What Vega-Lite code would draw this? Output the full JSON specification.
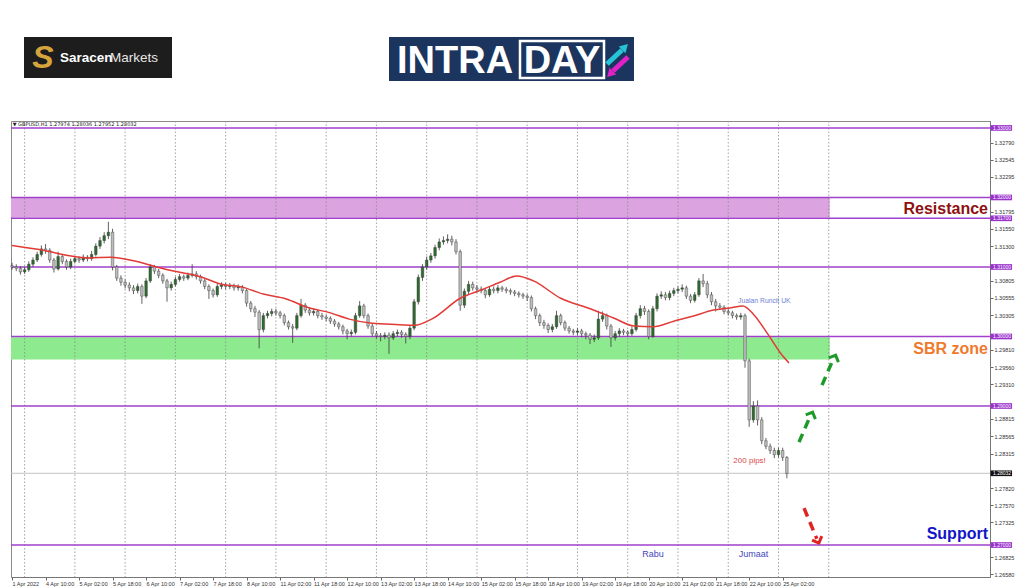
{
"$schema": "https://vega.github.io/schema/vega-lite/v6.json",
"padding": {"left": 8, "top": 0, "right": 0, "bottom": 0},
"spacing": 0,
"background": "white",
"config": {"view": {"stroke": null}, "font": "Liberation Sans", "axis": {"labelOverlap": false, "labelBound": false, "labelFlush": false, "title": null, "grid": false}},
"datasets": {
"candles": [
{"i":0,"o":1.3102,"h":1.3106,"l":1.3096,"c":1.3100},{"i":2,"o":1.3100,"h":1.3104,"l":1.3094,"c":1.3098},{"i":4,"o":1.3098,"h":1.3101,"l":1.3089,"c":1.3093},{"i":6,"o":1.3093,"h":1.3100,"l":1.3090,"c":1.3096},{"i":8,"o":1.3096,"h":1.3108,"l":1.3093,"c":1.3104},{"i":10,"o":1.3104,"h":1.3114,"l":1.3100,"c":1.3110},{"i":12,"o":1.3110,"h":1.3122,"l":1.3107,"c":1.3118},{"i":14,"o":1.3118,"h":1.3131,"l":1.3115,"c":1.3126},{"i":16,"o":1.3126,"h":1.3133,"l":1.3119,"c":1.3124},{"i":18,"o":1.3124,"h":1.3127,"l":1.3106,"c":1.3110},
{"i":20,"o":1.3110,"h":1.3113,"l":1.3092,"c":1.3097},{"i":22,"o":1.3097,"h":1.3122,"l":1.3095,"c":1.3115},{"i":24,"o":1.3115,"h":1.3118,"l":1.3104,"c":1.3108},{"i":26,"o":1.3108,"h":1.3111,"l":1.3096,"c":1.3100},{"i":28,"o":1.3100,"h":1.3112,"l":1.3097,"c":1.3108},{"i":30,"o":1.3108,"h":1.3116,"l":1.3105,"c":1.3112},{"i":32,"o":1.3112,"h":1.3115,"l":1.3106,"c":1.3110},{"i":34,"o":1.3110,"h":1.3118,"l":1.3107,"c":1.3114},{"i":36,"o":1.3114,"h":1.3117,"l":1.3108,"c":1.3112},{"i":38,"o":1.3112,"h":1.3123,"l":1.3109,"c":1.3118},
{"i":40,"o":1.3118,"h":1.3134,"l":1.3115,"c":1.3130},{"i":42,"o":1.3130,"h":1.3143,"l":1.3126,"c":1.3138},{"i":44,"o":1.3138,"h":1.3150,"l":1.3134,"c":1.3145},{"i":46,"o":1.3145,"h":1.3165,"l":1.3140,"c":1.3150},{"i":48,"o":1.3150,"h":1.3155,"l":1.3095,"c":1.3100},{"i":50,"o":1.3100,"h":1.3103,"l":1.3080,"c":1.3084},{"i":52,"o":1.3084,"h":1.3088,"l":1.3073,"c":1.3078},{"i":54,"o":1.3078,"h":1.3082,"l":1.3069,"c":1.3074},{"i":56,"o":1.3074,"h":1.3078,"l":1.3065,"c":1.3070},{"i":58,"o":1.3070,"h":1.3074,"l":1.3061,"c":1.3066},
{"i":60,"o":1.3066,"h":1.3076,"l":1.3062,"c":1.3072},{"i":62,"o":1.3072,"h":1.3075,"l":1.3047,"c":1.3058},{"i":64,"o":1.3058,"h":1.3084,"l":1.3055,"c":1.3080},{"i":66,"o":1.3080,"h":1.3104,"l":1.3077,"c":1.3100},{"i":68,"o":1.3100,"h":1.3103,"l":1.3090,"c":1.3094},{"i":70,"o":1.3094,"h":1.3097,"l":1.3084,"c":1.3088},{"i":72,"o":1.3088,"h":1.3091,"l":1.3076,"c":1.3080},{"i":74,"o":1.3080,"h":1.3083,"l":1.3050,"c":1.3070},{"i":76,"o":1.3070,"h":1.3079,"l":1.3066,"c":1.3075},{"i":78,"o":1.3075,"h":1.3086,"l":1.3072,"c":1.3082},
{"i":80,"o":1.3082,"h":1.3090,"l":1.3079,"c":1.3086},{"i":82,"o":1.3086,"h":1.3089,"l":1.3080,"c":1.3084},{"i":84,"o":1.3084,"h":1.3092,"l":1.3081,"c":1.3088},{"i":86,"o":1.3088,"h":1.3104,"l":1.3085,"c":1.3090},{"i":88,"o":1.3090,"h":1.3094,"l":1.3082,"c":1.3086},{"i":90,"o":1.3086,"h":1.3089,"l":1.3076,"c":1.3080},{"i":92,"o":1.3080,"h":1.3083,"l":1.3068,"c":1.3072},{"i":94,"o":1.3072,"h":1.3075,"l":1.3054,"c":1.3066},{"i":96,"o":1.3066,"h":1.3069,"l":1.3056,"c":1.3060},{"i":98,"o":1.3060,"h":1.3076,"l":1.3057,"c":1.3072},
{"i":100,"o":1.3072,"h":1.3078,"l":1.3068,"c":1.3074},{"i":102,"o":1.3074,"h":1.3077,"l":1.3068,"c":1.3072},{"i":104,"o":1.3072,"h":1.3077,"l":1.3068,"c":1.3073},{"i":106,"o":1.3073,"h":1.3076,"l":1.3066,"c":1.3070},{"i":108,"o":1.3070,"h":1.3075,"l":1.3066,"c":1.3071},{"i":110,"o":1.3071,"h":1.3074,"l":1.3062,"c":1.3066},{"i":112,"o":1.3066,"h":1.3069,"l":1.3043,"c":1.3048},{"i":114,"o":1.3048,"h":1.3051,"l":1.3035,"c":1.3040},{"i":116,"o":1.3040,"h":1.3044,"l":1.3028,"c":1.3035},{"i":118,"o":1.3035,"h":1.3038,"l":1.2983,"c":1.3010},
{"i":120,"o":1.3010,"h":1.3034,"l":1.3006,"c":1.3030},{"i":122,"o":1.3030,"h":1.3037,"l":1.3026,"c":1.3033},{"i":124,"o":1.3033,"h":1.3040,"l":1.3029,"c":1.3036},{"i":126,"o":1.3036,"h":1.3040,"l":1.3030,"c":1.3034},{"i":128,"o":1.3034,"h":1.3037,"l":1.3026,"c":1.3030},{"i":130,"o":1.3030,"h":1.3033,"l":1.3016,"c":1.3020},{"i":132,"o":1.3020,"h":1.3023,"l":1.3010,"c":1.3014},{"i":134,"o":1.3014,"h":1.3018,"l":1.2991,"c":1.3012},{"i":136,"o":1.3012,"h":1.3034,"l":1.3009,"c":1.3030},{"i":138,"o":1.3030,"h":1.3054,"l":1.3027,"c":1.3045},
{"i":140,"o":1.3045,"h":1.3048,"l":1.3034,"c":1.3038},{"i":142,"o":1.3038,"h":1.3042,"l":1.3030,"c":1.3034},{"i":144,"o":1.3034,"h":1.3040,"l":1.3030,"c":1.3036},{"i":146,"o":1.3036,"h":1.3039,"l":1.3026,"c":1.3030},{"i":148,"o":1.3030,"h":1.3034,"l":1.3024,"c":1.3028},{"i":150,"o":1.3028,"h":1.3031,"l":1.3022,"c":1.3026},{"i":152,"o":1.3026,"h":1.3029,"l":1.3018,"c":1.3022},{"i":154,"o":1.3022,"h":1.3025,"l":1.3014,"c":1.3018},{"i":156,"o":1.3018,"h":1.3021,"l":1.3010,"c":1.3014},{"i":158,"o":1.3014,"h":1.3017,"l":1.3003,"c":1.3008},
{"i":160,"o":1.3008,"h":1.3011,"l":1.2996,"c":1.3004},{"i":162,"o":1.3004,"h":1.3010,"l":1.3000,"c":1.3006},{"i":164,"o":1.3006,"h":1.3034,"l":1.3003,"c":1.3030},{"i":166,"o":1.3030,"h":1.3051,"l":1.3027,"c":1.3044},{"i":168,"o":1.3044,"h":1.3047,"l":1.3026,"c":1.3030},{"i":170,"o":1.3030,"h":1.3033,"l":1.3011,"c":1.3015},{"i":172,"o":1.3015,"h":1.3018,"l":1.3000,"c":1.3004},{"i":174,"o":1.3004,"h":1.3008,"l":1.2997,"c":1.3001},{"i":176,"o":1.3001,"h":1.3005,"l":1.2993,"c":1.3000},{"i":178,"o":1.3000,"h":1.3006,"l":1.2996,"c":1.3002},
{"i":180,"o":1.3002,"h":1.3006,"l":1.2975,"c":1.2998},{"i":182,"o":1.2998,"h":1.3008,"l":1.2995,"c":1.3004},{"i":184,"o":1.3004,"h":1.3010,"l":1.3000,"c":1.3006},{"i":186,"o":1.3006,"h":1.3009,"l":1.2998,"c":1.3003},{"i":188,"o":1.3003,"h":1.3006,"l":1.2990,"c":1.3000},{"i":190,"o":1.3000,"h":1.3016,"l":1.2996,"c":1.3012},{"i":192,"o":1.3012,"h":1.3054,"l":1.3009,"c":1.3050},{"i":194,"o":1.3050,"h":1.3089,"l":1.3046,"c":1.3085},{"i":196,"o":1.3085,"h":1.3104,"l":1.3080,"c":1.3100},{"i":198,"o":1.3100,"h":1.3115,"l":1.3096,"c":1.3110},
{"i":200,"o":1.3110,"h":1.3120,"l":1.3106,"c":1.3116},{"i":202,"o":1.3116,"h":1.3132,"l":1.3112,"c":1.3128},{"i":204,"o":1.3128,"h":1.3141,"l":1.3124,"c":1.3136},{"i":206,"o":1.3136,"h":1.3144,"l":1.3132,"c":1.3138},{"i":208,"o":1.3138,"h":1.3147,"l":1.3134,"c":1.3140},{"i":210,"o":1.3140,"h":1.3145,"l":1.3131,"c":1.3136},{"i":212,"o":1.3136,"h":1.3140,"l":1.3118,"c":1.3122},{"i":214,"o":1.3122,"h":1.3125,"l":1.3037,"c":1.3045},{"i":216,"o":1.3045,"h":1.3069,"l":1.3041,"c":1.3065},{"i":218,"o":1.3065,"h":1.3080,"l":1.3061,"c":1.3075},
{"i":220,"o":1.3075,"h":1.3079,"l":1.3066,"c":1.3070},{"i":222,"o":1.3070,"h":1.3074,"l":1.3063,"c":1.3068},{"i":224,"o":1.3068,"h":1.3072,"l":1.3062,"c":1.3066},{"i":226,"o":1.3066,"h":1.3069,"l":1.3055,"c":1.3060},{"i":228,"o":1.3060,"h":1.3072,"l":1.3057,"c":1.3068},{"i":230,"o":1.3068,"h":1.3072,"l":1.3062,"c":1.3066},{"i":232,"o":1.3066,"h":1.3074,"l":1.3062,"c":1.3070},{"i":234,"o":1.3070,"h":1.3073,"l":1.3064,"c":1.3068},{"i":236,"o":1.3068,"h":1.3071,"l":1.3062,"c":1.3066},{"i":238,"o":1.3066,"h":1.3069,"l":1.3060,"c":1.3064},
{"i":240,"o":1.3064,"h":1.3067,"l":1.3058,"c":1.3062},{"i":242,"o":1.3062,"h":1.3065,"l":1.3056,"c":1.3060},{"i":244,"o":1.3060,"h":1.3063,"l":1.3054,"c":1.3058},{"i":246,"o":1.3058,"h":1.3061,"l":1.3051,"c":1.3056},{"i":248,"o":1.3056,"h":1.3059,"l":1.3036,"c":1.3040},{"i":250,"o":1.3040,"h":1.3043,"l":1.3025,"c":1.3030},{"i":252,"o":1.3030,"h":1.3033,"l":1.3015,"c":1.3020},{"i":254,"o":1.3020,"h":1.3024,"l":1.3011,"c":1.3016},{"i":256,"o":1.3016,"h":1.3019,"l":1.3005,"c":1.3010},{"i":258,"o":1.3010,"h":1.3018,"l":1.3006,"c":1.3014},
{"i":260,"o":1.3014,"h":1.3037,"l":1.3011,"c":1.3030},{"i":262,"o":1.3030,"h":1.3033,"l":1.3016,"c":1.3020},{"i":264,"o":1.3020,"h":1.3023,"l":1.3008,"c":1.3012},{"i":266,"o":1.3012,"h":1.3015,"l":1.3004,"c":1.3008},{"i":268,"o":1.3008,"h":1.3011,"l":1.3002,"c":1.3006},{"i":270,"o":1.3006,"h":1.3012,"l":1.3002,"c":1.3008},{"i":272,"o":1.3008,"h":1.3011,"l":1.2999,"c":1.3004},{"i":274,"o":1.3004,"h":1.3007,"l":1.2996,"c":1.3002},{"i":276,"o":1.3002,"h":1.3005,"l":1.2989,"c":1.2996},{"i":278,"o":1.2996,"h":1.3003,"l":1.2992,"c":1.2998},
{"i":280,"o":1.2998,"h":1.3037,"l":1.2995,"c":1.3025},{"i":282,"o":1.3025,"h":1.3036,"l":1.3021,"c":1.3030},{"i":284,"o":1.3030,"h":1.3033,"l":1.3010,"c":1.3015},{"i":286,"o":1.3015,"h":1.3018,"l":1.2985,"c":1.2998},{"i":288,"o":1.2998,"h":1.3008,"l":1.2994,"c":1.3004},{"i":290,"o":1.3004,"h":1.3012,"l":1.3000,"c":1.3008},{"i":292,"o":1.3008,"h":1.3011,"l":1.3002,"c":1.3006},{"i":294,"o":1.3006,"h":1.3009,"l":1.3000,"c":1.3004},{"i":296,"o":1.3004,"h":1.3014,"l":1.3001,"c":1.3010},{"i":298,"o":1.3010,"h":1.3034,"l":1.3007,"c":1.3030},
{"i":300,"o":1.3030,"h":1.3045,"l":1.3026,"c":1.3040},{"i":302,"o":1.3040,"h":1.3044,"l":1.3031,"c":1.3036},{"i":304,"o":1.3036,"h":1.3039,"l":1.2996,"c":1.3000},{"i":306,"o":1.3000,"h":1.3044,"l":1.2998,"c":1.3040},{"i":308,"o":1.3040,"h":1.3062,"l":1.3036,"c":1.3058},{"i":310,"o":1.3058,"h":1.3065,"l":1.3054,"c":1.3060},{"i":312,"o":1.3060,"h":1.3064,"l":1.3052,"c":1.3056},{"i":314,"o":1.3056,"h":1.3066,"l":1.3052,"c":1.3062},{"i":316,"o":1.3062,"h":1.3070,"l":1.3058,"c":1.3066},{"i":318,"o":1.3066,"h":1.3072,"l":1.3062,"c":1.3068},
{"i":320,"o":1.3068,"h":1.3075,"l":1.3064,"c":1.3070},{"i":322,"o":1.3070,"h":1.3073,"l":1.3054,"c":1.3058},{"i":324,"o":1.3058,"h":1.3061,"l":1.3048,"c":1.3052},{"i":326,"o":1.3052,"h":1.3064,"l":1.3049,"c":1.3060},{"i":328,"o":1.3060,"h":1.3084,"l":1.3057,"c":1.3080},{"i":330,"o":1.3080,"h":1.3090,"l":1.3071,"c":1.3076},{"i":332,"o":1.3076,"h":1.3080,"l":1.3055,"c":1.3060},{"i":334,"o":1.3060,"h":1.3064,"l":1.3045,"c":1.3050},{"i":336,"o":1.3050,"h":1.3054,"l":1.3036,"c":1.3044},{"i":338,"o":1.3044,"h":1.3048,"l":1.3038,"c":1.3042},
{"i":340,"o":1.3042,"h":1.3045,"l":1.3032,"c":1.3036},{"i":342,"o":1.3036,"h":1.3040,"l":1.3030,"c":1.3034},{"i":344,"o":1.3034,"h":1.3037,"l":1.3026,"c":1.3030},{"i":346,"o":1.3030,"h":1.3033,"l":1.3024,"c":1.3028},{"i":348,"o":1.3028,"h":1.3034,"l":1.3024,"c":1.3030},{"i":350,"o":1.3030,"h":1.3033,"l":1.2955,"c":1.2965},{"i":352,"o":1.2965,"h":1.2968,"l":1.2870,"c":1.2880},{"i":354,"o":1.2880,"h":1.2907,"l":1.2876,"c":1.2900},{"i":356,"o":1.2900,"h":1.2908,"l":1.2872,"c":1.2880},{"i":358,"o":1.2880,"h":1.2884,"l":1.2845,"c":1.2850},
{"i":360,"o":1.2850,"h":1.2854,"l":1.2838,"c":1.2842},{"i":362,"o":1.2842,"h":1.2846,"l":1.2831,"c":1.2836},{"i":364,"o":1.2836,"h":1.2840,"l":1.2825,"c":1.2830},{"i":366,"o":1.2830,"h":1.2840,"l":1.2826,"c":1.2836},{"i":368,"o":1.2836,"h":1.2840,"l":1.2821,"c":1.2826},{"i":370,"o":1.2826,"h":1.2828,"l":1.2796,"c":1.2803}
],
"ma": [
{"i":0,"p":1.3131},{"i":15,"p":1.3124},{"i":26,"p":1.3117},{"i":37,"p":1.3113},{"i":47,"p":1.3114},{"i":58,"p":1.3109},{"i":69,"p":1.3100},{"i":79,"p":1.3093},{"i":90,"p":1.3086},{"i":99,"p":1.3076},{"i":110,"p":1.3071},{"i":120,"p":1.3061},{"i":131,"p":1.3054},{"i":141,"p":1.3042},{"i":152,"p":1.3034},{"i":161,"p":1.3025},{"i":172,"p":1.3019},{"i":185,"p":1.3017},{"i":192,"p":1.3016},{"i":201,"p":1.3026},{"i":214,"p":1.3055},{"i":225,"p":1.3068},{"i":233,"p":1.3078},{"i":241,"p":1.3087},{"i":249,"p":1.3080},{"i":262,"p":1.3055},{"i":275,"p":1.3041},{"i":287,"p":1.3027},{"i":297,"p":1.3015},{"i":306,"p":1.3014},{"i":316,"p":1.3022},{"i":325,"p":1.3029},{"i":335,"p":1.3038},{"i":343,"p":1.3041},{"i":349,"p":1.3044},{"i":354,"p":1.3032},{"i":361,"p":1.3003},{"i":367,"p":1.2976},{"i":371,"p":1.2962}
]
},
"vconcat": [
{
"width": 979, "height": 120,
"encoding": {
"x": {"field": "x", "type": "quantitative", "scale": {"domain": [11, 990], "nice": false, "zero": false}, "axis": null},
"y": {"field": "y", "type": "quantitative", "scale": {"domain": [120, 0], "nice": false, "zero": false}, "axis": null}
},
"layer": [
{"data": {"values": [{"x": 24, "x2": 172, "y": 37, "y2": 78}]}, "mark": {"type": "rect", "color": "#1d1d1d"}, "encoding": {"x2": {"field": "x2"}, "y2": {"field": "y2"}}},
{"data": {"values": [{"x": 43, "y": 58, "t": "S"}]}, "mark": {"type": "text", "fontSize": 32, "fontWeight": "bold", "fontStyle": "italic", "color": "#d6a53b", "align": "center", "baseline": "middle"}, "encoding": {"text": {"field": "t"}}},
{"data": {"values": [{"x": 60, "y": 58, "t": "Saracen"}]}, "mark": {"type": "text", "fontSize": 13.5, "fontWeight": "bold", "color": "#ffffff", "align": "left", "baseline": "middle"}, "encoding": {"text": {"field": "t"}}},
{"data": {"values": [{"x": 110, "y": 58, "t": "Markets"}]}, "mark": {"type": "text", "fontSize": 13.5, "color": "#e6e6e6", "align": "left", "baseline": "middle"}, "encoding": {"text": {"field": "t"}}},
{"data": {"values": [{"x": 389, "x2": 634, "y": 37, "y2": 81}]}, "mark": {"type": "rect", "color": "#1b355f"}, "encoding": {"x2": {"field": "x2"}, "y2": {"field": "y2"}}},
{"data": {"values": [{"x": 397, "y": 60, "t": "INTRA"}]}, "mark": {"type": "text", "fontSize": 38, "fontWeight": "bold", "color": "#ffffff", "align": "left", "baseline": "middle", "dy": 2}, "encoding": {"text": {"field": "t"}}},
{"data": {"values": [{"x": 520, "x2": 604, "y": 41, "y2": 78}]}, "mark": {"type": "rect", "fill": null, "fillOpacity": 0, "stroke": "#ffffff", "strokeWidth": 2.5}, "encoding": {"x2": {"field": "x2"}, "y2": {"field": "y2"}}},
{"data": {"values": [{"x": 562, "y": 60, "t": "DAY"}]}, "mark": {"type": "text", "fontSize": 38, "fontWeight": "bold", "color": "#ffffff", "align": "center", "baseline": "middle", "dy": 2}, "encoding": {"text": {"field": "t"}}},
{"data": {"values": [{"x": 607, "y": 64, "x2": 622, "y2": 50}]}, "mark": {"type": "rule", "color": "#27c4d6", "strokeWidth": 5}, "encoding": {"x2": {"field": "x2"}, "y2": {"field": "y2"}}},
{"data": {"values": [{"x": 625, "y": 47}]}, "mark": {"type": "point", "shape": "triangle-up", "angle": 45, "filled": true, "opacity": 1, "size": 90, "color": "#27c4d6"}},
{"data": {"values": [{"x": 628, "y": 57, "x2": 613, "y2": 71}]}, "mark": {"type": "rule", "color": "#e021c6", "strokeWidth": 5}, "encoding": {"x2": {"field": "x2"}, "y2": {"field": "y2"}}},
{"data": {"values": [{"x": 610, "y": 74}]}, "mark": {"type": "point", "shape": "triangle-up", "angle": 225, "filled": true, "opacity": 1, "size": 90, "color": "#e021c6"}}
]
},
{
"width": 979, "height": 456,
"view": {"stroke": "#8a8a8a", "strokeWidth": 1},
"encoding": {
 "x": {"field": "i", "type": "quantitative", "scale": {"domain": [-0.5, 467], "nice": false, "zero": false, "padding": 0},
  "axis": {"orient": "bottom", "values": [0,16,32,48,64,80,96,112,128,144,160,176,192,208,224,240,256,272,288,304,320,336,352,368],
   "labelExpr": "['1 Apr 2022','4 Apr 10:00','5 Apr 02:00','5 Apr 18:00','6 Apr 10:00','7 Apr 02:00','7 Apr 18:00','8 Apr 10:00','11 Apr 02:00','11 Apr 18:00','12 Apr 10:00','13 Apr 02:00','13 Apr 18:00','14 Apr 10:00','15 Apr 02:00','15 Apr 18:00','18 Apr 10:00','19 Apr 02:00','19 Apr 18:00','20 Apr 10:00','21 Apr 02:00','21 Apr 18:00','22 Apr 10:00','25 Apr 02:00'][round(datum.value/16)]",
   "labelAlign": "left", "labelFontSize": 5.5, "labelColor": "#333", "labelPadding": 1, "tickSize": 3, "tickColor": "#666", "domainColor": "#777", "grid": false, "title": null, "labelOverlap": false, "labelFlush": false}},
 "y": {"field": "p", "type": "quantitative", "scale": {"domain": [1.2654, 1.331], "nice": false, "zero": false},
  "axis": {"orient": "right", "values": [1.3279,1.32545,1.32295,1.31795,1.3155,1.313,1.30805,1.30555,1.30305,1.2981,1.2956,1.2931,1.28815,1.28565,1.28315,1.2782,1.2757,1.27325,1.26825,1.2658],
   "format": ".5f", "labelFontSize": 5.5, "labelColor": "#333", "labelPadding": 1, "tickSize": 3, "tickColor": "#666", "domainColor": "#777", "grid": false, "title": null, "labelOverlap": false, "labelFlush": false}}
},
"layer": [
{"data": {"values": [{"i": -0.5, "i2": 390.5, "p": 1.3171, "p2": 1.3200}]},
 "mark": {"type": "rect", "color": "#dba3df"},
 "encoding": {"x2": {"field": "i2"}, "y2": {"field": "p2"}}},
{"data": {"values": [{"i": -0.5, "i2": 390.5, "p": 1.2967, "p2": 1.2999}]},
 "mark": {"type": "rect", "color": "#8eea8e"},
 "encoding": {"x2": {"field": "i2"}, "y2": {"field": "p2"}}},
{"data": {"values": [{"i": 6},{"i": 30},{"i": 54},{"i": 78},{"i": 102},{"i": 126},{"i": 150},{"i": 174},{"i": 198},{"i": 222},{"i": 246},{"i": 270},{"i": 294},{"i": 318},{"i": 342},{"i": 366},{"i": 390}]},
 "mark": {"type": "rule", "color": "#8c8c8c", "strokeWidth": 0.8, "strokeDash": [1.5, 2]},
 "encoding": {"y": {"value": 0}, "y2": {"value": "height"}}},
{"data": {"values": [{"p": 1.33},{"p": 1.32},{"p": 1.317},{"p": 1.31},{"p": 1.30},{"p": 1.29},{"p": 1.27}]},
 "mark": {"type": "rule", "color": "#a040cc", "strokeWidth": 1.5},
 "encoding": {"x": {"value": 0}, "x2": {"value": "width"}}},
{"data": {"values": [{"p": 1.28032}]},
 "mark": {"type": "rule", "color": "#c4c4c4", "strokeWidth": 1},
 "encoding": {"x": {"value": 0}, "x2": {"value": "width"}}},
{"data": {"name": "candles"},
 "mark": {"type": "rule", "color": "#3a3a3a", "strokeWidth": 0.8},
 "encoding": {
  "y": {"field": "l", "type": "quantitative", "scale": {"domain": [1.2654, 1.331], "nice": false, "zero": false},
   "axis": {"orient": "right", "values": [1.3279,1.32545,1.32295,1.31795,1.3155,1.313,1.30805,1.30555,1.30305,1.2981,1.2956,1.2931,1.28815,1.28565,1.28315,1.2782,1.2757,1.27325,1.26825,1.2658],
    "format": ".5f", "labelFontSize": 5.5, "labelColor": "#333", "labelPadding": 1, "tickSize": 3, "tickColor": "#666", "domainColor": "#777", "grid": false, "title": null, "labelOverlap": false, "labelFlush": false}},
  "y2": {"field": "h"}
 }},
{"data": {"name": "candles"},
 "mark": {"type": "bar", "width": 2.6, "stroke": "#333", "strokeWidth": 0.4},
 "encoding": {
  "y": {"field": "o", "type": "quantitative", "scale": {"domain": [1.2654, 1.331], "nice": false, "zero": false},
   "axis": {"orient": "right", "values": [1.3279,1.32545,1.32295,1.31795,1.3155,1.313,1.30805,1.30555,1.30305,1.2981,1.2956,1.2931,1.28815,1.28565,1.28315,1.2782,1.2757,1.27325,1.26825,1.2658],
    "format": ".5f", "labelFontSize": 5.5, "labelColor": "#333", "labelPadding": 1, "tickSize": 3, "tickColor": "#666", "domainColor": "#777", "grid": false, "title": null, "labelOverlap": false, "labelFlush": false}},
  "y2": {"field": "c"},
  "color": {"condition": {"test": "datum.c >= datum.o", "value": "#2f6b2f"}, "value": "#bdbdbd"}
 }},
{"data": {"name": "ma"},
 "mark": {"type": "line", "color": "#e23a36", "strokeWidth": 1.5, "interpolate": "monotone"}},
{"data": {"values": [{"i": 0.3, "p": 1.3306, "t": "▼ GBPUSD,H1  1.27974 1.28036 1.27952 1.28032"}]},
 "mark": {"type": "text", "fontSize": 5, "color": "#222", "align": "left", "baseline": "middle", "font": "DejaVu Sans"},
 "encoding": {"text": {"field": "t"}}},
{"data": {"values": [{"i": 346.7, "p": 1.3051, "t": "Jualan Runcit UK"}]},
 "mark": {"type": "text", "fontSize": 6.8, "color": "#6f80d8", "align": "left", "baseline": "middle"},
 "encoding": {"text": {"field": "t"}}},
{"data": {"values": [{"i": 352.2, "p": 1.2821, "t": "200 pips!"}]},
 "mark": {"type": "text", "fontSize": 8, "color": "#e04848", "align": "center", "baseline": "middle"},
 "encoding": {"text": {"field": "t"}}},
{"data": {"values": [{"i": 306.1, "p": 1.26866, "t": "Rabu"},{"i": 354.1, "p": 1.26866, "t": "Jumaat"}]},
 "mark": {"type": "text", "fontSize": 9, "color": "#4646bb", "align": "center", "baseline": "middle"},
 "encoding": {"text": {"field": "t"}}},
{"data": {"values": [{"i": 375.8, "p": 1.2848, "i2": 381.5, "p2": 1.2888},{"i": 386.8, "p": 1.2930, "i2": 392.5, "p2": 1.2970}]},
 "mark": {"type": "rule", "color": "#1f9a2a", "strokeWidth": 3.5, "strokeDash": [9, 6]},
 "encoding": {"x2": {"field": "i2"}, "y2": {"field": "p2"}}},
{"data": {"values": [{"i": 382, "p": 1.2889},{"i": 393, "p": 1.2971}]},
 "mark": {"type": "point", "shape": "M-1,0.7L0,-0.3L1,0.7", "filled": false, "opacity": 1, "strokeWidth": 3, "size": 110, "angle": 23, "color": "#1f9a2a"}},
{"data": {"values": [{"i": 378.2, "p": 1.2753, "i2": 384.3, "p2": 1.2709}]},
 "mark": {"type": "rule", "color": "#e02424", "strokeWidth": 3.5, "strokeDash": [9, 6]},
 "encoding": {"x2": {"field": "i2"}, "y2": {"field": "p2"}}},
{"data": {"values": [{"i": 385, "p": 1.2705}]},
 "mark": {"type": "point", "shape": "M-1,0.7L0,-0.3L1,0.7", "filled": false, "opacity": 1, "strokeWidth": 3, "size": 110, "angle": 158, "color": "#e02424"}},
{"data": {"values": [{"p": 1.31835, "t": "Resistance"}]},
 "mark": {"type": "text", "fontSize": 16, "fontWeight": "bold", "color": "#8e1010", "align": "right", "baseline": "middle", "dx": -2},
 "encoding": {"x": {"value": "width"}, "text": {"field": "t"}}},
{"data": {"values": [{"p": 1.2982, "t": "SBR zone"}]},
 "mark": {"type": "text", "fontSize": 16, "fontWeight": "bold", "color": "#f07a2c", "align": "right", "baseline": "middle", "dx": -2},
 "encoding": {"x": {"value": "width"}, "text": {"field": "t"}}},
{"data": {"values": [{"p": 1.27158, "t": "Support"}]},
 "mark": {"type": "text", "fontSize": 16, "fontWeight": "bold", "color": "#1414c8", "align": "right", "baseline": "middle", "dx": -2},
 "encoding": {"x": {"value": "width"}, "text": {"field": "t"}}},
{"data": {"values": [{"p": 1.33},{"p": 1.32},{"p": 1.317},{"p": 1.31},{"p": 1.30},{"p": 1.29},{"p": 1.27}]},
 "mark": {"type": "point", "shape": "M0.05,-0.27H2.1V0.27H0.05Z", "filled": true, "opacity": 1, "size": 441, "color": "#9933cc", "strokeWidth": 0},
 "encoding": {"x": {"value": "width"}}},
{"data": {"values": [{"p": 1.28032}]},
 "mark": {"type": "point", "shape": "M0.05,-0.27H2.1V0.27H0.05Z", "filled": true, "opacity": 1, "size": 441, "color": "#111111", "strokeWidth": 0},
 "encoding": {"x": {"value": "width"}}},
{"data": {"values": [{"p": 1.33, "t": "1.33000"},{"p": 1.32, "t": "1.32000"},{"p": 1.317, "t": "1.31700"},{"p": 1.31, "t": "1.31000"},{"p": 1.30, "t": "1.30000"},{"p": 1.29, "t": "1.29000"},{"p": 1.27, "t": "1.27000"},{"p": 1.28032, "t": "1.28032"}]},
 "mark": {"type": "text", "fontSize": 5, "color": "#ffffff", "align": "left", "baseline": "middle", "dx": 3},
 "encoding": {"x": {"value": "width"}, "text": {"field": "t"}}}
]
}
]
}
